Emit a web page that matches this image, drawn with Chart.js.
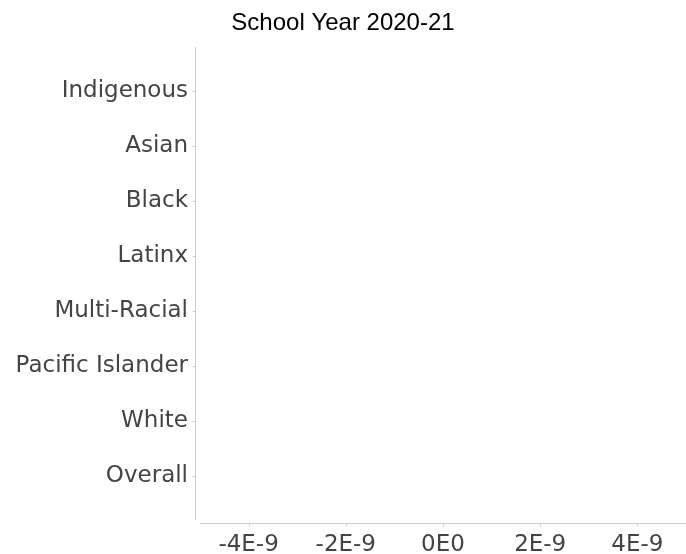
<!DOCTYPE html>
<html>
<head>
<meta charset="utf-8">
<script src="https://cdn.jsdelivr.net/npm/chart.js@4"></script>
<style>
  html, body { margin: 0; padding: 0; background: #ffffff; }
  #wrap { width: 686px; height: 554px; position: relative; }
</style>
</head>
<body>
<div id="wrap"><canvas id="c" width="686" height="554"></canvas></div>
<script>
const chartTitle = "School Year 2020-21";
const categories = ["Indigenous", "Asian", "Black", "Latinx", "Multi-Racial", "Pacific Islander", "White", "Overall"];
const values = [0, 0, 0, 0, 0, 0, 0, 0];
const xTickValues = [-4e-9, -2e-9, 0, 2e-9, 4e-9];
const xTickLabels = ["-4E-9", "-2E-9", "0E0", "2E-9", "4E-9"];
const xMin = -5e-9, xMax = 5e-9;

const axisColor = "#cccccc";
const labelColor = "#444444";
const tickFont = { family: "'DejaVu Sans', sans-serif", size: 23 };

const axesPlugin = {
  id: "axesPlugin",
  afterDraw(chart) {
    const { ctx, chartArea } = chart;
    const xs = chart.scales.x, ys = chart.scales.y;
    ctx.save();
    ctx.strokeStyle = axisColor;
    ctx.lineWidth = 1;
    const yx = Math.round(chartArea.left - 5) + 0.5;
    ctx.beginPath();
    ctx.moveTo(yx, chartArea.top);
    ctx.lineTo(yx, chartArea.bottom);
    ctx.stroke();
    ys.ticks.forEach(t => {
      const p = Math.round(ys.getPixelForValue(t.value)) + 0.5;
      ctx.beginPath();
      ctx.moveTo(yx - 3, p);
      ctx.lineTo(yx, p);
      ctx.stroke();
    });
    const xy = Math.round(chartArea.bottom + 3) + 0.5;
    ctx.beginPath();
    ctx.moveTo(chartArea.left, xy);
    ctx.lineTo(chartArea.right, xy);
    ctx.stroke();
    xs.ticks.forEach(t => {
      const p = Math.round(xs.getPixelForValue(t.value)) + 0.5;
      ctx.beginPath();
      ctx.moveTo(p, xy);
      ctx.lineTo(p, xy + 3);
      ctx.stroke();
    });
    ctx.restore();
  }
};

new Chart(document.getElementById("c"), {
  type: "bar",
  data: {
    datasets: [{
      label: chartTitle,
      data: values.map((v, i) => ({ x: v, y: i })),
      backgroundColor: "#4c78a8",
      borderWidth: 0
    }]
  },
  options: {
    responsive: false,
    animation: false,
    indexAxis: "y",
    layout: { padding: { left: 0, right: 0, top: 0, bottom: 0 } },
    plugins: {
      legend: { display: false },
      tooltip: { enabled: false },
      title: {
        display: true,
        text: chartTitle,
        color: "#000000",
        font: { family: "'Liberation Sans', Arial, sans-serif", size: 24, weight: "normal" },
        padding: { top: 9, bottom: 9 }
      }
    },
    scales: {
      x: {
        type: "linear",
        min: xMin,
        max: xMax,
        offset: false,
        grid: { display: false, drawTicks: false },
        border: { display: false },
        afterBuildTicks(scale) { scale.ticks = xTickValues.map(v => ({ value: v })); },
        afterFit(scale) { scale.height = 34; },
        ticks: {
          color: labelColor,
          font: tickFont,
          padding: 11,
          maxRotation: 0,
          autoSkip: false,
          callback(value) {
            const i = xTickValues.findIndex(v => Math.abs(v - value) < 1e-15);
            return i >= 0 ? xTickLabels[i] : "";
          }
        }
      },
      y: {
        type: "linear",
        min: -0.8,
        max: categories.length - 1 + 0.8,
        reverse: true,
        offset: false,
        grid: { display: false, drawTicks: false },
        border: { display: false },
        afterBuildTicks(scale) { scale.ticks = categories.map((c, i) => ({ value: i })); },
        afterFit(scale) { scale.width = 200; },
        ticks: {
          color: labelColor,
          font: tickFont,
          padding: 12,
          autoSkip: false,
          callback(value) { return categories[value] ?? ""; }
        }
      }
    }
  },
  plugins: [axesPlugin]
});
</script>
</body>
</html>
